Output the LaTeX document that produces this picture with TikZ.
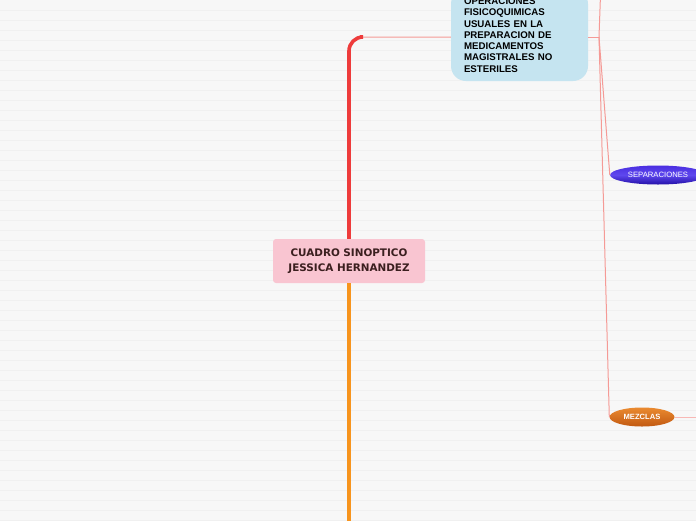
\documentclass[tikz,border=0pt]{standalone}
\usepackage{fontspec}
\setmainfont{Liberation Sans}
\newfontfamily\dejavu{DejaVu Sans}
\usetikzlibrary{shapes.geometric}
\definecolor{bgc}{HTML}{F7F7F7}
\definecolor{bgline}{HTML}{F0F0F0}
\definecolor{pinkc}{HTML}{F9C5D1}
\definecolor{pinktext}{HTML}{3B1F1F}
\definecolor{bluec}{HTML}{C5E4F0}
\definecolor{trunkred}{HTML}{EE3B3B}
\definecolor{trunkorange}{HTML}{F7941D}
\definecolor{thinred}{HTML}{F59A96}
\definecolor{sepTop}{HTML}{4A2EE0}
\definecolor{sepMid}{HTML}{5E48EE}
\definecolor{sepBot}{HTML}{2410A8}
\definecolor{mezTop}{HTML}{EA8A30}
\definecolor{mezBot}{HTML}{C25A12}
\tikzset{
  centralbox/.style={fill=pinkc, rounded corners=3pt, minimum width=152pt, minimum height=44pt, inner sep=0pt, align=center, text=pinktext, font=\dejavu\bfseries\fontsize{10.4}{15}\selectfont},
  topicbox/.style={fill=bluec, rounded corners=15pt, minimum width=137pt, minimum height=92pt, inner sep=0pt, align=left, text width=111pt, font=\bfseries\fontsize{9.7}{11.3}\selectfont},
  sepellipse/.style={ellipse, minimum width=96pt, minimum height=19pt, inner sep=0pt, top color=sepTop, bottom color=sepBot, middle color=sepMid, text=white, font=\fontsize{7.7}{8}\selectfont},
  mezellipse/.style={ellipse, minimum width=65pt, minimum height=19pt, inner sep=0pt, top color=mezTop, bottom color=mezBot, text=white, font=\bfseries\fontsize{7.6}{8}\selectfont},
  thinlink/.style={draw=thinred, line width=1pt},
}
\begin{document}
\begin{tikzpicture}[x=1pt,y=-1pt]
\useasboundingbox (0,0) rectangle (696,520);
\clip (0,0) rectangle (696,520);
\fill[bgc] (0,0) rectangle (696,520);
\foreach \yy in {10,20,...,520} {\draw[bgline, line width=0.7pt] (0,\yy) -- (696,\yy);}
% nodes
\node[centralbox] (center) at (349,261) {CUADRO SINOPTICO\\JESSICA HERNANDEZ};
\node[topicbox] (topic) at (519.5,35) {OPERACIONES\\FISICOQUIMICAS\\USUALES EN LA\\PREPARACION DE\\MEDICAMENTOS\\MAGISTRALES NO\\ESTERILES};
\node[sepellipse] (sep) at (658,175) {SEPARACIONES};
\node[mezellipse] (mez) at (642,417) {MEZCLAS};
\coordinate (junc) at (599,37);
\coordinate (upend) at (600.5,-5);
\coordinate (mezend) at (700,417);
\coordinate (bottomend) at (349,525);
% trunk
\draw[thinlink, rounded corners=14pt] (center.north) |- (topic.west |- junc);
\draw[trunkred, line width=3.6pt, rounded corners=14pt] (center.north) |- (360,37);
\draw[thinlink] (topic.east |- junc) -- (junc);
\draw[trunkorange, line width=4pt] (center.south) -- (bottomend);
% branches
\draw[thinlink] (junc) -- (upend);
\draw[thinlink] (junc) -- (sep.west);
\draw[thinlink] (junc) -- (mez.west);
\draw[draw=thinred!70, line width=1pt] (mez.east) -- (mezend);
\end{tikzpicture}
\end{document}
